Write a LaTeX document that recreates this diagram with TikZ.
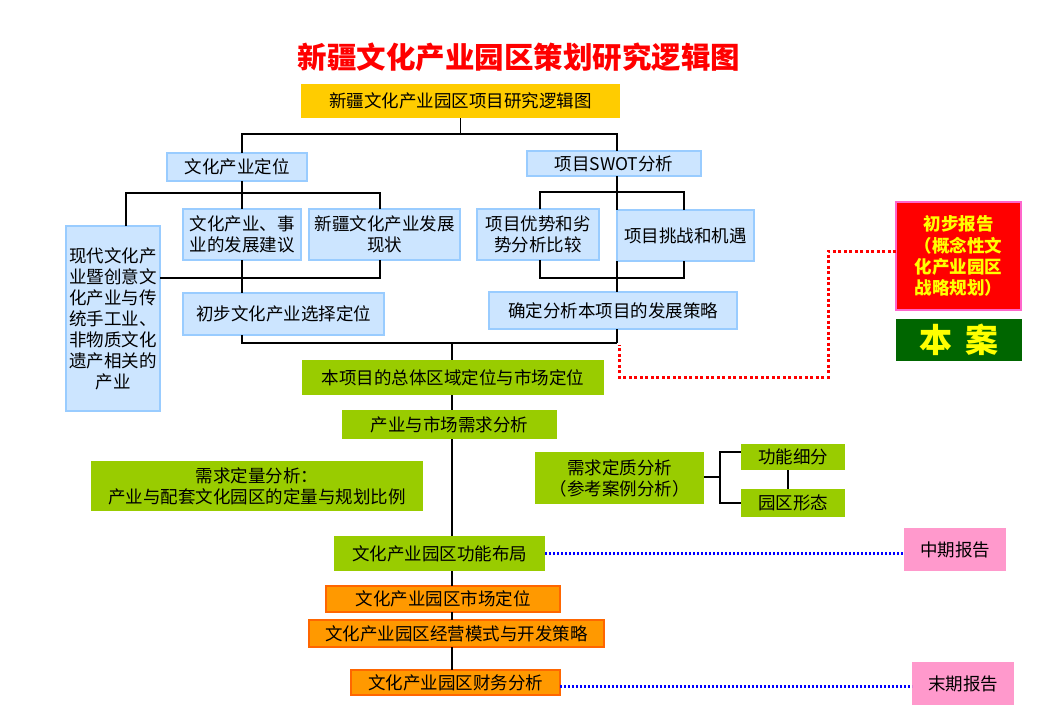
\documentclass[tikz,border=0pt]{standalone}
\usepackage{fontspec}
\setmainfont{Noto Sans CJK SC}
\usetikzlibrary{calc}
\definecolor{boxblue}{HTML}{CCE5FF}
\definecolor{edgeblue}{HTML}{99CCFF}
\definecolor{topyellow}{HTML}{FFCC00}
\definecolor{leaf}{HTML}{99CC00}
\definecolor{orangefill}{HTML}{FF9900}
\definecolor{orangeedge}{HTML}{FF6600}
\definecolor{pinkfill}{HTML}{FF99CC}
\definecolor{redfill}{HTML}{FF0000}
\definecolor{rededge}{HTML}{FF66CC}
\definecolor{darkgreen}{HTML}{006600}
\definecolor{yellowtext}{HTML}{FFFF00}
\definecolor{dotblue}{HTML}{0000FF}
\begin{document}
\begin{tikzpicture}[x=1pt,y=-1pt,
  base/.style={inner sep=0pt, outer sep=0pt, align=center, font=\fontsize{17.5}{21}\selectfont, text=black},
  bluebox/.style={base, fill=boxblue, draw=edgeblue, line width=1.2pt},
  yellowbox/.style={base, fill=topyellow},
  greenbox/.style={base, fill=leaf},
  orangebox/.style={base, fill=orangefill, draw=orangeedge, line width=1.2pt},
  pinkbox/.style={base, fill=pinkfill},
  conn/.style={draw=black, line width=1.1pt},
  reddots/.style={draw=red, line width=3pt, dash pattern=on 3pt off 2.5pt},
  bluedots/.style={draw=dotblue, line width=2.2pt, dash pattern=on 2pt off 2pt},
]
\fill[white] (0,0) rectangle (1038,725);
\useasboundingbox (0,0) rectangle (1038,725);

% title
\node[font=\fontsize{29.5}{34}\selectfont\bfseries, text=red, inner sep=0pt] (title) at (519,57) {新疆文化产业园区策划研究逻辑图};

% nodes
\node[yellowbox, minimum width=319pt, minimum height=34pt] (top) at (460.5,101) {新疆文化产业园区项目研究逻辑图};
\node[bluebox, minimum width=140pt, minimum height=28pt] (cul) at (237,167) {文化产业定位};
\node[bluebox, minimum width=174pt, minimum height=25pt] (swot) at (614,163.5) {项目SWOT分析};
\node[bluebox, minimum width=94pt, minimum height=185pt] (modern) at (113,318.5) {现代文化产\\业暨创意文\\化产业与传\\统手工业、\\非物质文化\\遗产相关的\\产业};
\node[bluebox, minimum width=118pt, minimum height=51pt] (jianyi) at (242,234.5) {文化产业、事\\业的发展建议};
\node[bluebox, minimum width=151pt, minimum height=51pt] (xj) at (384.5,234.5) {新疆文化产业发展\\现状};
\node[bluebox, minimum width=201pt, minimum height=42pt] (chubu) at (283.5,314) {初步文化产业选择定位};
\node[bluebox, minimum width=122pt, minimum height=51pt] (ys) at (538,234.5) {项目优势和劣\\势分析比较};
\node[bluebox, minimum width=137pt, minimum height=51pt] (tz) at (685.5,235.5) {项目挑战和机遇};
\node[bluebox, minimum width=248pt, minimum height=37pt] (qd) at (613,310.5) {确定分析本项目的发展策略};

\node[greenbox, minimum width=302pt, minimum height=35pt] (bz) at (453,377.5) {本项目的总体区域定位与市场定位};
\node[greenbox, minimum width=215pt, minimum height=29pt] (xq) at (449.5,424.5) {产业与市场需求分析};
\node[greenbox, minimum width=332pt, minimum height=50pt] (dl) at (257,486) {需求定量分析：\\产业与配套文化园区的定量与规划比例};
\node[greenbox, minimum width=169pt, minimum height=52pt] (dz) at (619.5,478) {需求定质分析\\（参考案例分析）};
\node[greenbox, minimum width=104pt, minimum height=26pt] (gnxf) at (793,457) {功能细分};
\node[greenbox, minimum width=104pt, minimum height=28pt] (yqxt) at (793,503) {园区形态};
\node[greenbox, minimum width=211pt, minimum height=35pt] (gn) at (439.5,553.5) {文化产业园区功能布局};

\node[orangebox, minimum width=234pt, minimum height=26pt] (scdw) at (443,599) {文化产业园区市场定位};
\node[orangebox, minimum width=295pt, minimum height=27pt] (jy) at (456.5,633.5) {文化产业园区经营模式与开发策略};
\node[orangebox, minimum width=209pt, minimum height=25pt] (cw) at (455.5,682.5) {文化产业园区财务分析};

\node[pinkbox, minimum width=102pt, minimum height=43pt] (zq) at (955,549.5) {中期报告};
\node[pinkbox, minimum width=102pt, minimum height=43pt] (mq) at (963,683.5) {末期报告};

\node[base, fill=redfill, draw=rededge, line width=1.2pt, text=yellowtext, font=\fontsize{17.5}{21.3}\selectfont\bfseries, minimum width=125pt, minimum height=108pt] (cb) at (958.5,256) {初步报告\\（概念性文\\化产业园区\\战略规划）};
\node[base, fill=darkgreen, text=yellowtext, font=\fontsize{33}{36}\selectfont\bfseries, minimum width=126pt, minimum height=42pt] (ba) at (959,340) {本\hspace{0.4em}案};

% top tree
\draw[conn] (top.south) -- ++(0,16) coordinate (b1);
\draw[conn] ([xshift=5pt]cul.north) |- (b1) -| ([xshift=3pt]swot.north);

% left subtree
\draw[conn] ([xshift=5pt]cul.south) -- ++(0,12) coordinate (b2);
\draw[conn] ([xshift=13pt]modern.north) |- (b2) -| ([xshift=-4.5pt]xj.north);
\draw[conn] (b2) -- (jianyi.north);
\draw[conn] (jianyi.south) -- (jianyi.south |- chubu.north);
\path (jianyi.south) ++(0,18) coordinate (b3);
\draw[conn] (modern.east |- b3) -| ([xshift=-4.5pt]xj.south);

% SWOT subtree
\draw[conn] ([xshift=3pt]swot.south) -- ++(0,16) coordinate (b6);
\draw[conn] ([xshift=2pt]ys.north) |- (b6) -| ([xshift=-1.5pt]tz.north);
\draw[conn] (b6) -- (b6 |- tz.north);
\draw[conn] (b6 |- tz.south) -- (b6 |- qd.north);
\path ([xshift=2pt]ys.south) ++(0,18) coordinate (b7);
\draw[conn] ([xshift=2pt]ys.south) -- (b7) -| ([xshift=-1.5pt]tz.south);

% merge
\draw[conn] ([xshift=4pt]qd.south) -- ++(0,14) coordinate (b5);
\draw[conn] (jianyi.south |- chubu.south) |- (b5);

% spine
\coordinate (sp) at (452,343);
\draw[conn] (sp) -- (sp |- bz.north);
\draw[conn] (sp |- bz.south) -- (sp |- xq.north);
\draw[conn] (sp |- xq.south) -- (sp |- gn.north);
\draw[conn] (sp |- gn.south) -- (sp |- scdw.north);
\draw[conn] (sp |- scdw.south) -- (sp |- jy.north);
\draw[conn] (sp |- jy.south) -- (sp |- cw.north);

% qualitative analysis branch
\draw[conn] ([yshift=1pt]dz.east) -- ++(16,0) coordinate (b8);
\draw[conn] ([yshift=5pt]gnxf.west) -| (b8) |- (yqxt.west);
\draw[conn] ([xshift=-5pt]gnxf.south) -- ([xshift=-5pt]yqxt.north);

% dotted links
\draw[bluedots] (gn.east) -- (gn.east -| zq.west);
\draw[bluedots] ([yshift=-4pt]cw.east) -- ([yshift=-4pt]cw.east -| mq.west);
\coordinate (rtail) at (619,345);
\draw[reddots] ([yshift=5pt]cb.west) -| (828,377) -| (rtail);
\end{tikzpicture}
\end{document}
